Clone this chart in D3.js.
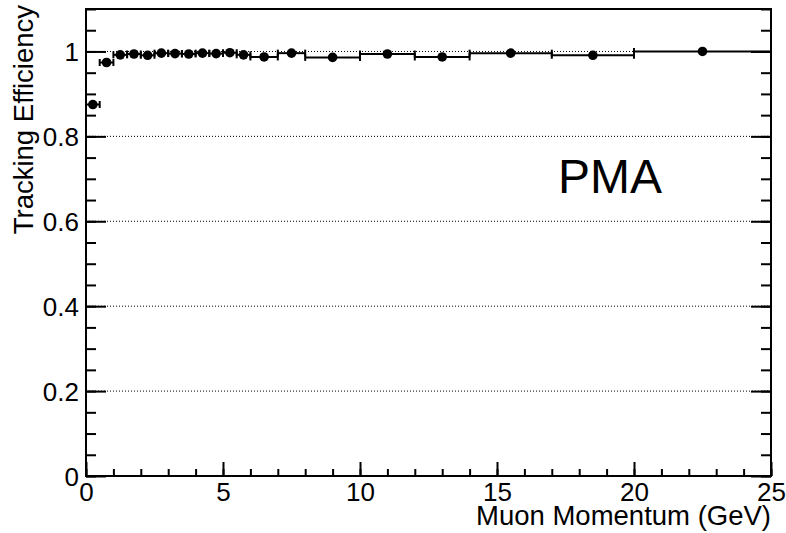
<!DOCTYPE html>
<html>
<head>
<meta charset="utf-8">
<script src="https://cdn.jsdelivr.net/npm/d3@7"></script>
<style>
  body { margin: 0; background: #fff; }
  svg { display: block; font-family: "Liberation Sans", Arial, sans-serif; }
</style>
</head>
<body>
<div id="chart"></div>
<script>
// bins in muon momentum (GeV) and measured tracking efficiency
const binLow  = [0, 0.5, 1, 1.5, 2, 2.5, 3, 3.5, 4, 4.5, 5, 5.5, 6, 7, 8, 10, 12, 14, 17, 20];
const binHigh = [0.5, 1, 1.5, 2, 2.5, 3, 3.5, 4, 4.5, 5, 5.5, 6, 7, 8, 10, 12, 14, 17, 20, 25];
const efficiency = [0.875, 0.974, 0.992, 0.994, 0.991, 0.996, 0.995, 0.994, 0.996, 0.995,
                    0.997, 0.992, 0.987, 0.996, 0.986, 0.994, 0.987, 0.996, 0.991, 1.0];

const xMajor = [0, 5, 10, 15, 20, 25];
const yMajor = [0, 0.2, 0.4, 0.6, 0.8, 1];
const yGrid = [0.2, 0.4, 0.6, 0.8, 1];

const width = 786, height = 533;
const margin = {left: 86, top: 9, right: 15, bottom: 57};
const sWidth = width - margin.left - margin.right;
const sHeight = height - margin.top - margin.bottom;

const svg = d3.select('#chart').append('svg')
  .attr('width', width)
  .attr('height', height);

const chart = svg.append('g')
  .attr('transform', 'translate(' + margin.left + ',' + margin.top + ')');

const xScale = d3.scaleLinear().domain([0, 25]).range([0, sWidth]);
const yScale = d3.scaleLinear().domain([0, 1.1]).range([sHeight, 0]);

// dotted horizontal grid
chart.append('g').selectAll('line')
  .data(yGrid)
  .enter().append('line')
  .attr('x1', 0).attr('x2', sWidth)
  .attr('y1', d => yScale(d)).attr('y2', d => yScale(d))
  .attr('stroke', '#000')
  .attr('stroke-width', 1)
  .attr('stroke-dasharray', '1,2');

// x axis: minor every 1, major every 5, ticks pointing inward
chart.append('g')
  .attr('transform', 'translate(0,' + sHeight + ')')
  .call(d3.axisBottom(xScale).ticks(25).tickSize(-7).tickFormat(''));
let xAxis = chart.append('g')
  .attr('transform', 'translate(0,' + sHeight + ')')
  .call(d3.axisBottom(xScale).tickValues(xMajor).tickSize(-14).tickFormat(d3.format('d')));
xAxis.selectAll('text').attr('font-size', 26).attr('dy', 0).attr('y', 25).attr('fill', '#000');

// y axis: minor every 0.05, major every 0.2, left and right
const yMinorVals = d3.range(0, 1.1001, 0.05);
[0, sWidth].forEach((xPos, side) => {
  let sz = side === 0 ? -1 : 1;
  chart.append('g')
    .attr('transform', 'translate(' + xPos + ',0)')
    .call(d3.axisLeft(yScale).tickValues(yMinorVals).tickSize(10 * sz).tickFormat(''));
  let ax = chart.append('g')
    .attr('transform', 'translate(' + xPos + ',0)')
    .call(d3.axisLeft(yScale).tickValues(yMajor).tickSize(20 * sz)
      .tickFormat(side === 0 ? (d => d3.format('')(+d.toFixed(1))) : ''));
  if (side === 0) {
    ax.selectAll('text').attr('font-size', 26).attr('fill', '#000')
      .attr('x', -7).attr('dy', '0.36em');
  }
});

chart.selectAll('.domain').remove();
chart.selectAll('.tick line').attr('stroke', '#000').attr('stroke-width', 2);

// frame
chart.append('rect')
  .attr('x', 0).attr('y', 0)
  .attr('width', sWidth).attr('height', sHeight)
  .attr('fill', 'none')
  .attr('stroke', '#000')
  .attr('stroke-width', 2);

// horizontal error bars = bin widths, with end caps
const pts = efficiency.map((e, i) => ({lo: binLow[i], hi: binHigh[i], y: e}));
const bars = chart.append('g');
bars.selectAll('line.err')
  .data(pts).enter().append('line')
  .attr('class', 'err')
  .attr('x1', d => xScale(d.lo)).attr('x2', d => xScale(d.hi))
  .attr('y1', d => yScale(d.y)).attr('y2', d => yScale(d.y))
  .attr('stroke', '#000').attr('stroke-width', 2);
['lo', 'hi'].forEach(k => {
  bars.selectAll('line.cap-' + k)
    .data(pts).enter().append('line')
    .attr('class', 'cap-' + k)
    .attr('x1', d => xScale(d[k])).attr('x2', d => xScale(d[k]))
    .attr('y1', d => yScale(d.y) - 3.5).attr('y2', d => yScale(d.y) + 3.5)
    .attr('stroke', '#000').attr('stroke-width', 2);
});
chart.append('g').selectAll('circle')
  .data(pts).enter().append('circle')
  .attr('cx', d => xScale((d.lo + d.hi) / 2))
  .attr('cy', d => yScale(d.y))
  .attr('r', 4.8)
  .attr('fill', '#000');

// titles
svg.append('text')
  .attr('transform', 'translate(33,5) rotate(-90)')
  .attr('text-anchor', 'end')
  .attr('font-size', 27.5)
  .text('Tracking Efficiency');

svg.append('text')
  .attr('x', margin.left + sWidth)
  .attr('y', 525)
  .attr('text-anchor', 'end')
  .attr('font-size', 27.5)
  .text('Muon Momentum (GeV)');

svg.append('text')
  .attr('x', 558)
  .attr('y', 193)
  .attr('font-size', 48)
  .text('PMA');
</script>
</body>
</html>
